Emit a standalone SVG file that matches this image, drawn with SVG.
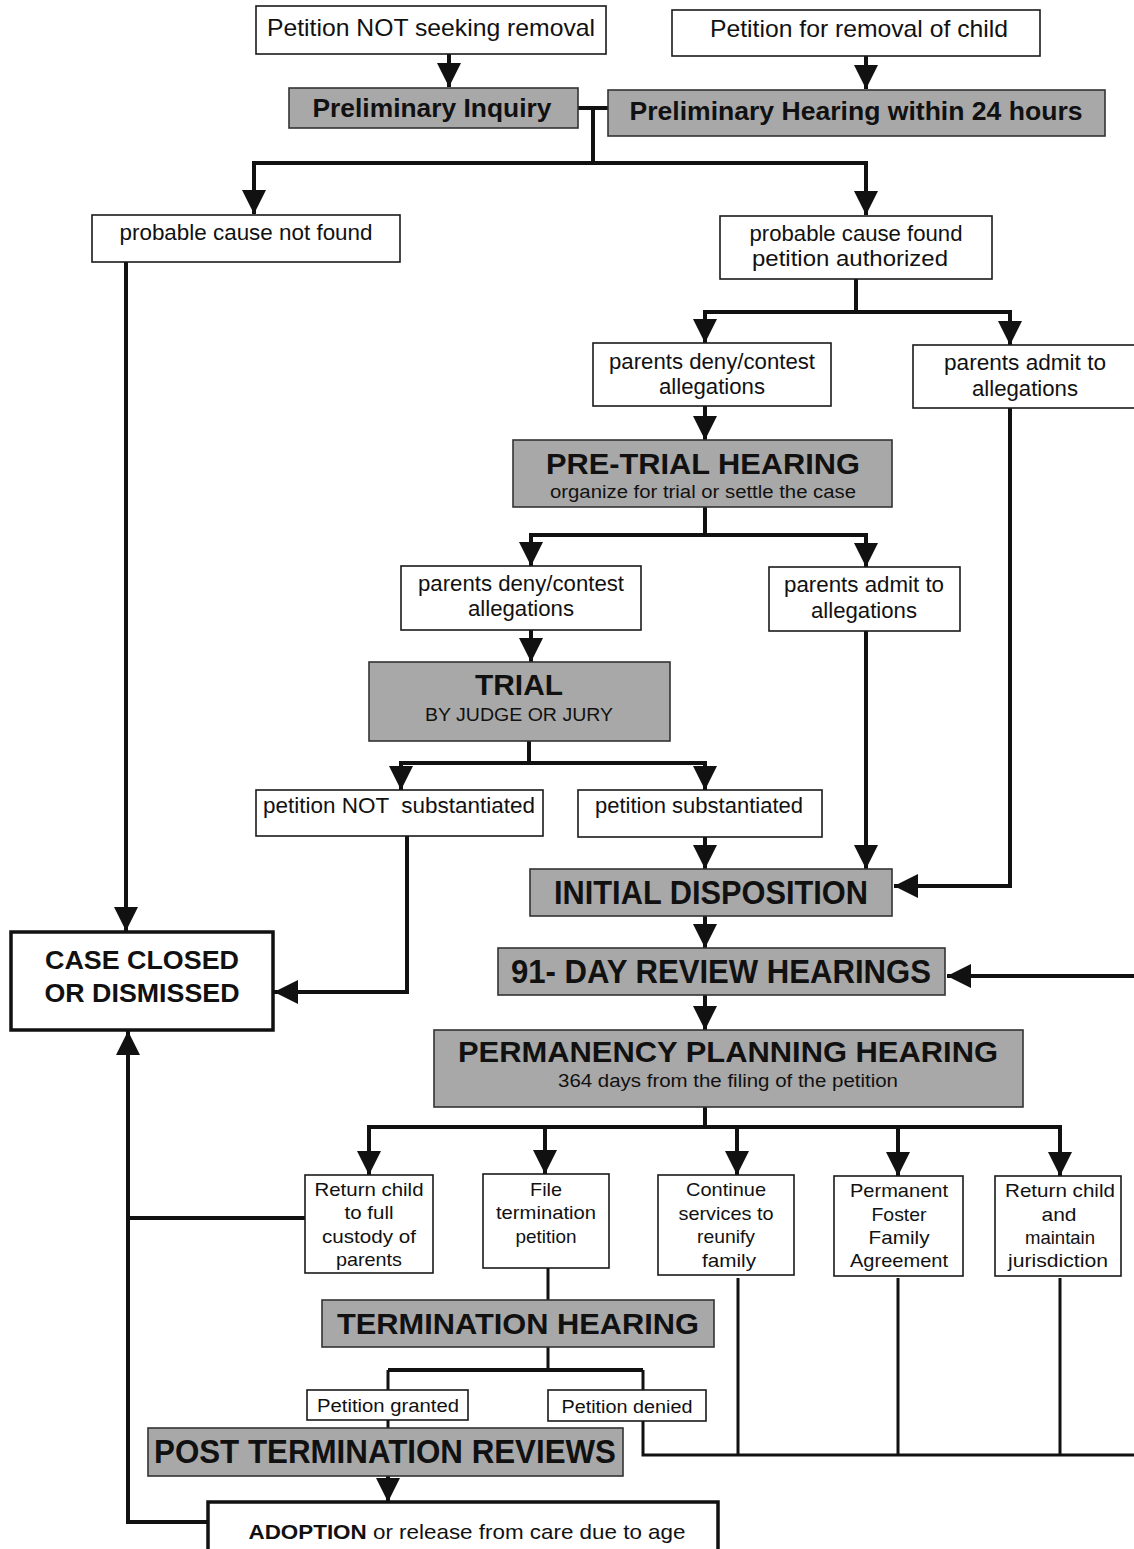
<svg xmlns="http://www.w3.org/2000/svg" width="1134" height="1549" viewBox="0 0 1134 1549">
<style>
.box{fill:#fff;stroke:#1a1a1a;stroke-width:1.6}
.gray{fill:#a8a8a8;stroke:#333;stroke-width:1.6}
.thick{fill:#fff;stroke:#111;stroke-width:3.5}
text{font-family:"Liberation Sans",Arial,Helvetica,sans-serif;text-anchor:middle;fill:#111}
.b{font-weight:bold}
.conn{fill:none;stroke:#111;stroke-width:4}
.thin{fill:none;stroke:#111;stroke-width:3}
</style>
<defs>
<marker id="ah" markerUnits="userSpaceOnUse" markerWidth="24" markerHeight="24" refX="24" refY="12" orient="auto" viewBox="0 0 24 24">
<path d="M0,0 L24,12 L0,24 z" fill="#111"/>
</marker>
</defs>
<g id="connectors">
<path class="conn" d="M449,54 V87" marker-end="url(#ah)"/>
<path class="conn" d="M866,56 V89" marker-end="url(#ah)"/>
<path class="conn" d="M578,108 H608"/>
<path class="conn" d="M593,108 V163 H254 V214" marker-end="url(#ah)"/>
<path class="conn" d="M593,163 H866 V215" marker-end="url(#ah)"/>
<path class="conn" d="M126,262 V931" marker-end="url(#ah)"/>
<path class="conn" d="M856,279 V312 H705 V343" marker-end="url(#ah)"/>
<path class="conn" d="M856,312 H1010 V345" marker-end="url(#ah)"/>
<path class="conn" d="M705,406 V440" marker-end="url(#ah)"/>
<path class="conn" d="M705,507 V535 H531 V566" marker-end="url(#ah)"/>
<path class="conn" d="M705,535 H866 V567" marker-end="url(#ah)"/>
<path class="conn" d="M531,630 V662" marker-end="url(#ah)"/>
<path class="conn" d="M529,741 V763 H401 V790" marker-end="url(#ah)"/>
<path class="conn" d="M529,763 H705 V790" marker-end="url(#ah)"/>
<path class="conn" d="M407,832 V992 H274" marker-end="url(#ah)"/>
<path class="conn" d="M705,837 V869" marker-end="url(#ah)"/>
<path class="conn" d="M866,631 V869" marker-end="url(#ah)"/>
<path class="conn" d="M1010,408 V886 H894" marker-end="url(#ah)"/>
<path class="conn" d="M705,916 V948" marker-end="url(#ah)"/>
<path class="conn" d="M705,995 V1030" marker-end="url(#ah)"/>
<path class="conn" d="M705,1107 V1127"/>
<path class="conn" d="M367,1127 H1062"/>
<path class="conn" d="M369,1127 V1175" marker-end="url(#ah)"/>
<path class="conn" d="M545,1127 V1174" marker-end="url(#ah)"/>
<path class="conn" d="M737,1127 V1175" marker-end="url(#ah)"/>
<path class="conn" d="M898,1127 V1176" marker-end="url(#ah)"/>
<path class="conn" d="M1060,1127 V1176" marker-end="url(#ah)"/>
<path class="conn" d="M305,1218 H128"/>
<path class="conn" d="M208,1522 H128 V1031" marker-end="url(#ah)"/>
<path class="thin" d="M548,1268 V1300"/>
<path class="thin" d="M548,1347 V1370"/>
<path class="conn" d="M388,1370 H643"/>
<path class="thin" d="M388,1370 V1390"/>
<path class="thin" d="M643,1370 V1390"/>
<path class="thin" d="M388,1420 V1428"/>
<path class="conn" d="M388,1476 V1502" marker-end="url(#ah)"/>
<path class="thin" d="M643,1421 V1455 H1140 V976"/>
<path class="conn" d="M1140,976 H947" marker-end="url(#ah)"/>
<path class="thin" d="M738,1278 V1455"/>
<path class="thin" d="M898,1278 V1455"/>
<path class="thin" d="M1060,1278 V1455"/>
</g>
<g id="n-not-seeking">
<rect class="box" x="256" y="6" width="350" height="48"/>
<text x="431" y="36" font-size="24" textLength="328" lengthAdjust="spacingAndGlyphs">Petition NOT seeking removal</text>
</g>
<g id="n-removal">
<rect class="box" x="672" y="10" width="368" height="46"/>
<text x="859" y="37" font-size="24" textLength="298" lengthAdjust="spacingAndGlyphs">Petition for removal of child</text>
</g>
<g id="n-prelim-inquiry">
<rect class="gray" x="289" y="88" width="289" height="40"/>
<text class="b" x="432" y="117" font-size="26" textLength="239" lengthAdjust="spacingAndGlyphs">Preliminary Inquiry</text>
</g>
<g id="n-prelim-hearing">
<rect class="gray" x="608" y="90" width="497" height="46"/>
<text class="b" x="856" y="120" font-size="26" textLength="453" lengthAdjust="spacingAndGlyphs">Preliminary Hearing within 24 hours</text>
</g>
<g id="n-not-found">
<rect class="box" x="92" y="215" width="308" height="47"/>
<text x="246" y="240" font-size="22" textLength="253" lengthAdjust="spacingAndGlyphs">probable cause not found</text>
</g>
<g id="n-found">
<rect class="box" x="720" y="216" width="272" height="63"/>
<text x="856" y="241" font-size="22" textLength="213" lengthAdjust="spacingAndGlyphs">probable cause found</text>
<text x="850" y="266" font-size="22" textLength="196" lengthAdjust="spacingAndGlyphs">petition authorized</text>
</g>
<g id="n-deny1">
<rect class="box" x="593" y="343" width="238" height="63"/>
<text x="712" y="369" font-size="22" textLength="206" lengthAdjust="spacingAndGlyphs">parents deny/contest</text>
<text x="712" y="394" font-size="22" textLength="106" lengthAdjust="spacingAndGlyphs">allegations</text>
</g>
<g id="n-admit1">
<rect class="box" x="913" y="345" width="225" height="63"/>
<text x="1025" y="370" font-size="22" textLength="162" lengthAdjust="spacingAndGlyphs">parents admit to</text>
<text x="1025" y="396" font-size="22" textLength="106" lengthAdjust="spacingAndGlyphs">allegations</text>
</g>
<g id="n-pretrial">
<rect class="gray" x="513" y="440" width="379" height="67"/>
<text class="b" x="703" y="474" font-size="30" textLength="314" lengthAdjust="spacingAndGlyphs">PRE-TRIAL HEARING</text>
<text x="703" y="498" font-size="18" textLength="306" lengthAdjust="spacingAndGlyphs">organize for trial or settle the case</text>
</g>
<g id="n-deny2">
<rect class="box" x="401" y="566" width="240" height="64"/>
<text x="521" y="591" font-size="22" textLength="206" lengthAdjust="spacingAndGlyphs">parents deny/contest</text>
<text x="521" y="616" font-size="22" textLength="106" lengthAdjust="spacingAndGlyphs">allegations</text>
</g>
<g id="n-admit2">
<rect class="box" x="769" y="567" width="191" height="64"/>
<text x="864" y="592" font-size="22" textLength="160" lengthAdjust="spacingAndGlyphs">parents admit to</text>
<text x="864" y="618" font-size="22" textLength="106" lengthAdjust="spacingAndGlyphs">allegations</text>
</g>
<g id="n-trial">
<rect class="gray" x="369" y="662" width="301" height="79"/>
<text class="b" x="519" y="695" font-size="30" textLength="88" lengthAdjust="spacingAndGlyphs">TRIAL</text>
<text x="519" y="721" font-size="18" textLength="188" lengthAdjust="spacingAndGlyphs">BY JUDGE OR JURY</text>
</g>
<g id="n-not-subst">
<rect class="box" x="256" y="790" width="287" height="46"/>
<text x="399" y="813" font-size="22" textLength="272" lengthAdjust="spacingAndGlyphs" xml:space="preserve">petition NOT  substantiated</text>
</g>
<g id="n-subst">
<rect class="box" x="578" y="790" width="244" height="47"/>
<text x="699" y="813" font-size="22" textLength="208" lengthAdjust="spacingAndGlyphs">petition substantiated</text>
</g>
<g id="n-initial">
<rect class="gray" x="530" y="869" width="362" height="47"/>
<text class="b" x="711" y="904" font-size="34" textLength="314" lengthAdjust="spacingAndGlyphs">INITIAL DISPOSITION</text>
</g>
<g id="n-closed">
<rect class="thick" x="11" y="932" width="262" height="98"/>
<text class="b" x="142" y="969" font-size="25" textLength="194" lengthAdjust="spacingAndGlyphs">CASE CLOSED</text>
<text class="b" x="142" y="1002" font-size="25" textLength="195" lengthAdjust="spacingAndGlyphs">OR DISMISSED</text>
</g>
<g id="n-review">
<rect class="gray" x="498" y="948" width="447" height="47"/>
<text class="b" x="721" y="983" font-size="34" textLength="420" lengthAdjust="spacingAndGlyphs">91- DAY REVIEW HEARINGS</text>
</g>
<g id="n-permanency">
<rect class="gray" x="434" y="1030" width="589" height="77"/>
<text class="b" x="728" y="1062" font-size="30" textLength="540" lengthAdjust="spacingAndGlyphs">PERMANENCY PLANNING HEARING</text>
<text x="728" y="1087" font-size="18" textLength="340" lengthAdjust="spacingAndGlyphs">364 days from the filing of the petition</text>
</g>
<g id="n-return-full">
<rect class="box" x="305" y="1175" width="128" height="98"/>
<text x="369" y="1196" font-size="19" textLength="109" lengthAdjust="spacingAndGlyphs">Return child</text>
<text x="369" y="1219" font-size="19" textLength="49" lengthAdjust="spacingAndGlyphs">to full</text>
<text x="369" y="1243" font-size="19" textLength="94" lengthAdjust="spacingAndGlyphs">custody of</text>
<text x="369" y="1266" font-size="19" textLength="66" lengthAdjust="spacingAndGlyphs">parents</text>
</g>
<g id="n-file-term">
<rect class="box" x="483" y="1174" width="126" height="94"/>
<text x="546" y="1196" font-size="19" textLength="32" lengthAdjust="spacingAndGlyphs">File</text>
<text x="546" y="1219" font-size="19" textLength="100" lengthAdjust="spacingAndGlyphs">termination</text>
<text x="546" y="1243" font-size="19" textLength="61" lengthAdjust="spacingAndGlyphs">petition</text>
</g>
<g id="n-continue">
<rect class="box" x="658" y="1175" width="136" height="100"/>
<text x="726" y="1196" font-size="19" textLength="80" lengthAdjust="spacingAndGlyphs">Continue</text>
<text x="726" y="1220" font-size="19" textLength="95" lengthAdjust="spacingAndGlyphs">services to</text>
<text x="726" y="1243" font-size="19" textLength="58" lengthAdjust="spacingAndGlyphs">reunify</text>
<text x="729" y="1267" font-size="19" textLength="54" lengthAdjust="spacingAndGlyphs">family</text>
</g>
<g id="n-foster">
<rect class="box" x="834" y="1176" width="129" height="100"/>
<text x="899" y="1197" font-size="19" textLength="98" lengthAdjust="spacingAndGlyphs">Permanent</text>
<text x="899" y="1221" font-size="19" textLength="55" lengthAdjust="spacingAndGlyphs">Foster</text>
<text x="899" y="1244" font-size="19" textLength="61" lengthAdjust="spacingAndGlyphs">Family</text>
<text x="899" y="1267" font-size="19" textLength="98" lengthAdjust="spacingAndGlyphs">Agreement</text>
</g>
<g id="n-return-maintain">
<rect class="box" x="995" y="1176" width="126" height="100"/>
<text x="1060" y="1197" font-size="19" textLength="110" lengthAdjust="spacingAndGlyphs">Return child</text>
<text x="1059" y="1221" font-size="19" textLength="35" lengthAdjust="spacingAndGlyphs">and</text>
<text x="1060" y="1244" font-size="19" textLength="70" lengthAdjust="spacingAndGlyphs">maintain</text>
<text x="1058" y="1267" font-size="19" textLength="100" lengthAdjust="spacingAndGlyphs">jurisdiction</text>
</g>
<g id="n-term-hearing">
<rect class="gray" x="322" y="1300" width="392" height="47"/>
<text class="b" x="518" y="1334" font-size="30" textLength="362" lengthAdjust="spacingAndGlyphs">TERMINATION HEARING</text>
</g>
<g id="n-granted">
<rect class="box" x="307" y="1390" width="161" height="30"/>
<text x="388" y="1412" font-size="18" textLength="142" lengthAdjust="spacingAndGlyphs">Petition granted</text>
</g>
<g id="n-denied">
<rect class="box" x="548" y="1390" width="158" height="31"/>
<text x="627" y="1413" font-size="18" textLength="131" lengthAdjust="spacingAndGlyphs">Petition denied</text>
</g>
<g id="n-post-term">
<rect class="gray" x="148" y="1428" width="475" height="48"/>
<text class="b" x="385" y="1463" font-size="34" textLength="462" lengthAdjust="spacingAndGlyphs">POST TERMINATION REVIEWS</text>
</g>
<g id="n-adoption">
<rect class="thick" x="208" y="1502" width="510" height="52"/>
<text x="467" y="1539" font-size="21" textLength="437" lengthAdjust="spacingAndGlyphs"><tspan class="b">ADOPTION</tspan> or release from care due to age</text>
</g>
</svg>
